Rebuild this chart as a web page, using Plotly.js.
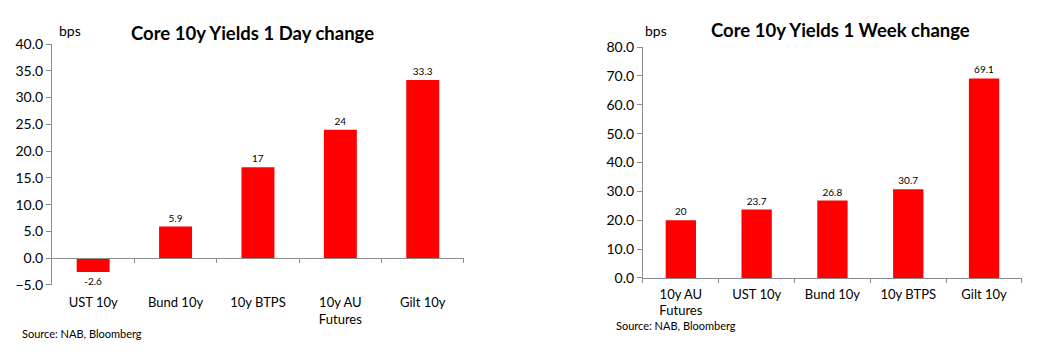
<!DOCTYPE html>
<html>
<head>
<meta charset="utf-8">
<script src="https://cdn.plot.ly/plotly-3.0.1.min.js"></script>
<style>html,body{margin:0;padding:0;background:#fff;}#chart{width:1037px;height:358px;}</style>
</head>
<body>
<div id="chart"></div>
<script>
var dayCategories = ["UST 10y", "Bund 10y", "10y BTPS", "10y AU<br>Futures", "Gilt 10y"];
var dayValues = [-2.6, 5.9, 17, 24, 33.3];
var dayLabels = ["-2.6", "5.9", "17", "24", "33.3"];
var weekCategories = ["10y AU<br>Futures", "UST 10y", "Bund 10y", "10y BTPS", "Gilt 10y"];
var weekValues = [20, 23.7, 26.8, 30.7, 69.1];
var weekLabels = ["20", "23.7", "26.8", "30.7", "69.1"];
var dayTicks = [-5, 0, 5, 10, 15, 20, 25, 30, 35, 40];
var weekTicks = [0, 10, 20, 30, 40, 50, 60, 70, 80];

var FONT = "Lato, 'Open Sans', sans-serif";
var AX = "#8c8c8c";
var RED = "#ff0000";

var traces = [
  {type: "bar", x: dayCategories, y: dayValues, xaxis: "x", yaxis: "y",
   marker: {color: RED}, width: 0.4, text: dayLabels, textposition: "outside",
   textfont: {family: FONT, size: 10, color: "#000"}, cliponaxis: false, hoverinfo: "skip"},
  {type: "bar", x: dayCategories, y: [null, null, null, null, null], xaxis: "x3", yaxis: "y",
   hoverinfo: "skip", showlegend: false},
  {type: "bar", x: weekCategories, y: weekValues, xaxis: "x2", yaxis: "y2",
   marker: {color: RED}, width: 0.4, text: weekLabels, textposition: "outside",
   textfont: {family: FONT, size: 10, color: "#000"}, cliponaxis: false, hoverinfo: "skip"}
];

var yDom1 = [0.204, 0.877];
var y0frac = yDom1[0] + (0 - (-5)) / 45 * (yDom1[1] - yDom1[0]);

var layout = {
  width: 1037, height: 358,
  margin: {l: 0, r: 0, t: 0, b: 0},
  paper_bgcolor: "#fff", plot_bgcolor: "#fff",
  showlegend: false,
  bargap: 0.6,
  font: {family: FONT, color: "#000"},
  xaxis: {domain: [0.0501, 0.4474], anchor: "y", type: "category",
    showline: false, ticks: "", showgrid: false, zeroline: false, ticklabelstandoff: 8,
    tickfont: {family: FONT, size: 13, color: "#000"}, fixedrange: true},
  xaxis3: {domain: [0.0501, 0.4474], anchor: "free", overlaying: "x", position: y0frac,
    type: "category", showline: true, linecolor: AX, linewidth: 1,
    ticks: "outside", tickson: "boundaries", ticklen: 4, tickcolor: AX,
    showticklabels: false, showgrid: false, zeroline: false, fixedrange: true},
  yaxis: {domain: yDom1, anchor: "x", range: [-5, 40], tickvals: dayTicks,
    tickformat: ".1f", showline: true, linecolor: AX, linewidth: 1,
    ticks: "outside", ticklen: 5, tickcolor: AX, showgrid: false, zeroline: false,
    tickfont: {family: FONT, size: 14, color: "#000"}, fixedrange: true},
  xaxis2: {domain: [0.620, 0.9855], anchor: "y2", type: "category",
    showline: true, linecolor: AX, linewidth: 1,
    ticks: "outside", tickson: "boundaries", ticklen: 4, tickcolor: AX,
    showgrid: false, zeroline: false, ticklabelstandoff: 4,
    tickfont: {family: FONT, size: 13, color: "#000"}, fixedrange: true},
  yaxis2: {domain: [0.2235, 0.8687], anchor: "x2", range: [0, 80], tickvals: weekTicks,
    tickformat: ".1f", showline: true, linecolor: AX, linewidth: 1,
    ticks: "outside", ticklen: 5, tickcolor: AX, showgrid: false, zeroline: false,
    tickfont: {family: FONT, size: 14, color: "#000"}, fixedrange: true},
  annotations: [
    {text: "<b>Core 10y Yields 1 Day change</b>", xref: "paper", yref: "paper",
     x: 252/1037, y: 1 - 33/358, xanchor: "center", yanchor: "middle", showarrow: false,
     font: {family: FONT, size: 18.5, color: "#000"}},
    {text: "<b>Core 10y Yields 1 Week change</b>", xref: "paper", yref: "paper",
     x: 840/1037, y: 1 - 30/358, xanchor: "center", yanchor: "middle", showarrow: false,
     font: {family: FONT, size: 18.5, color: "#000"}},
    {text: "bps", xref: "paper", yref: "paper", x: 57/1037, y: 1 - 31/358,
     xanchor: "left", yanchor: "middle", showarrow: false,
     font: {family: FONT, size: 14, color: "#000"}},
    {text: "bps", xref: "paper", yref: "paper", x: 643/1037, y: 1 - 31/358,
     xanchor: "left", yanchor: "middle", showarrow: false,
     font: {family: FONT, size: 14, color: "#000"}},
    {text: "Source: NAB, Bloomberg", xref: "paper", yref: "paper", x: 20/1037, y: 1 - 333/358,
     xanchor: "left", yanchor: "middle", showarrow: false,
     font: {family: FONT, size: 11, color: "#000"}},
    {text: "Source: NAB, Bloomberg", xref: "paper", yref: "paper", x: 614/1037, y: 1 - 325/358,
     xanchor: "left", yanchor: "middle", showarrow: false,
     font: {family: FONT, size: 11, color: "#000"}}
  ]
};

Plotly.newPlot("chart", traces, layout, {displayModeBar: false, staticPlot: true});
</script>
</body>
</html>
